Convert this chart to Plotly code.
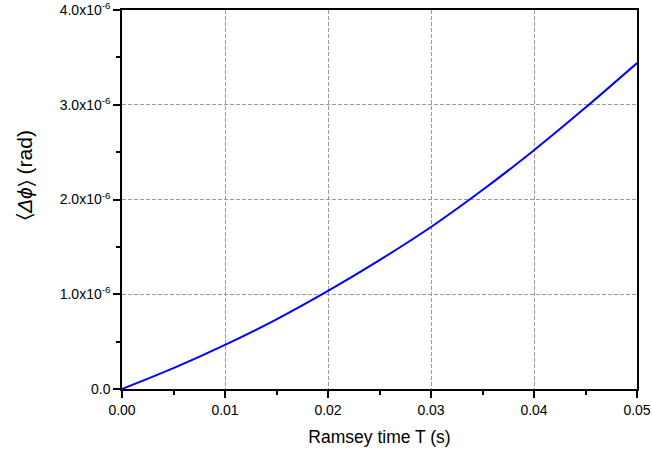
import plotly.graph_objects as go

ramsey_time_s = [0.0, 0.005, 0.01, 0.015, 0.02, 0.025, 0.03, 0.035, 0.04, 0.045, 0.05]
phase_uncert_e6 = [0.0, 0.22, 0.465, 0.735, 1.035, 1.36, 1.71, 2.10, 2.52, 2.97, 3.44]
phase_uncert = [v * 1e-6 for v in phase_uncert_e6]

y_tick_vals = [0.0, 1e-6, 2e-6, 3e-6, 4e-6]
y_tick_text = ["0.0", "1.0x10<sup>-6</sup>", "2.0x10<sup>-6</sup>", "3.0x10<sup>-6</sup>", "4.0x10<sup>-6</sup>"]
x_tick_vals = [0.0, 0.01, 0.02, 0.03, 0.04, 0.05]
x_tick_text = ["0.00", "0.01", "0.02", "0.03", "0.04", "0.05"]

fig = go.Figure()
fig.add_trace(go.Scatter(
    x=ramsey_time_s, y=phase_uncert, mode="lines",
    line=dict(color="#0000ff", width=2, shape="spline", smoothing=0.8),
    showlegend=False,
))

font_family = "Liberation Sans, Arial, sans-serif"
fig.update_layout(
    width=652, height=457,
    margin=dict(l=122, r=15, t=10, b=68),
    plot_bgcolor="white", paper_bgcolor="white",
    font=dict(family=font_family, size=14, color="black"),
)
grid_style = dict(showgrid=True, gridcolor="#9a9a9a", griddash="4px,2px", gridwidth=1)
fig.update_xaxes(
    range=[0, 0.05], tickvals=x_tick_vals, ticktext=x_tick_text,
    showline=True, linecolor="black", linewidth=1.5, mirror=True,
    ticks="outside", ticklen=7, tickwidth=1.5, tickcolor="black",
    minor=dict(ticks="outside", ticklen=4, tickwidth=1.5, tickcolor="black", dtick=0.005, showgrid=False),
    zeroline=False, automargin=False,
    tickfont=dict(size=14),
    title=dict(text="Ramsey time T (s)", font=dict(size=17.5), standoff=14),
    **grid_style,
)
fig.update_yaxes(
    range=[0, 4e-6], tickvals=y_tick_vals, ticktext=y_tick_text,
    showline=True, linecolor="black", linewidth=1.5, mirror=True,
    ticks="outside", ticklen=7, tickwidth=1.5, tickcolor="black",
    minor=dict(ticks="outside", ticklen=4, tickwidth=1.5, tickcolor="black", dtick=0.5e-6, showgrid=False),
    zeroline=False, automargin=False,
    tickfont=dict(size=14),
    **grid_style,
)
fig.add_annotation(
    text="\u2329<i>\u0394\u03d5</i>\u232a (rad)", textangle=-90,
    xref="paper", yref="paper", x=-0.188, y=0.565,
    xanchor="center", yanchor="middle", showarrow=False,
    font=dict(size=21, family=font_family),
)
fig.write_html("out.html")
